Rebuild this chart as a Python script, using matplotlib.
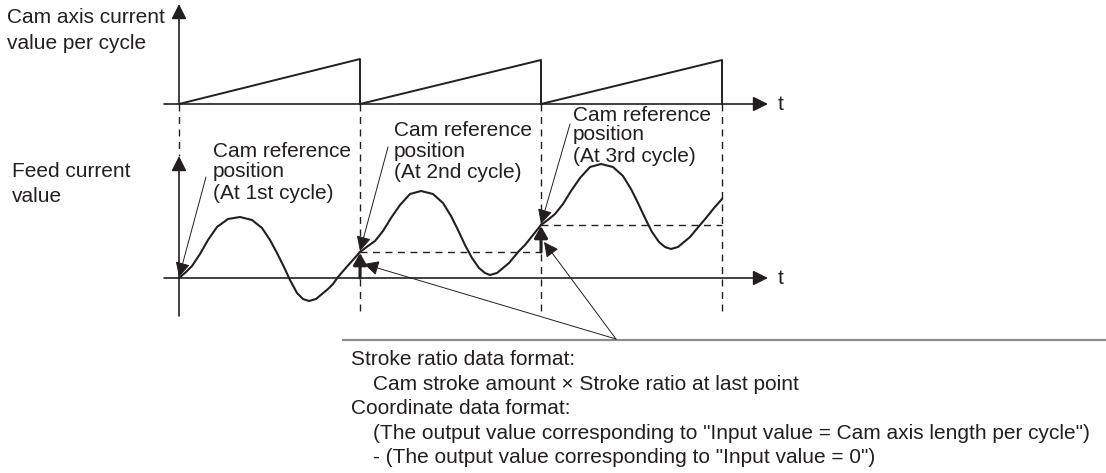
import matplotlib
matplotlib.use("Agg")
import matplotlib.pyplot as plt

plt.rcParams['font.family'] = ['Liberation Sans', 'DejaVu Sans']

INK = '#231f20'

# cycle boundaries along t (pixel space of the diagram)
cycle_x = [179, 360, 541, 722]
saw_top = [59, 60, 60]

# feed current value, one list per cycle
feed_x = [
    [179, 186, 192, 200, 208, 217, 228, 240, 252, 262, 270, 277, 284, 290, 297,
     303, 309, 316, 322, 328, 333, 338, 344, 352, 360],
    [360, 368, 375, 383, 391, 400, 410, 421, 433, 443, 451, 458, 465, 472, 479,
     485, 490, 497, 503, 509, 514, 519, 525, 533, 541],
    [541, 549, 555, 563, 571, 580, 590, 601, 613, 623, 631, 638, 645, 652, 659,
     665, 671, 678, 684, 690, 695, 700, 706, 714, 722],
]
feed_y = [
    [278, 272, 266, 254, 240, 227, 219, 217, 220, 228, 240, 253, 267, 280, 293,
     299, 301, 299, 294, 289, 284, 277, 270, 261, 252],
    [252, 246, 241, 231, 218, 205, 194, 191, 194, 203, 216, 230, 245, 258, 268,
     273, 275, 273, 268, 263, 257, 251, 245, 235, 225],
    [225, 219, 214, 204, 191, 178, 167, 164, 167, 176, 189, 203, 218, 232, 242,
     247, 249, 247, 242, 237, 231, 225, 218, 208, 199],
]

ref_labels = [
    ["Cam reference", "position", "(At 1st cycle)"],
    ["Cam reference", "position", "(At 2nd cycle)"],
    ["Cam reference", "position", "(At 3rd cycle)"],
]

box_lines = [
    "Stroke ratio data format:",
    "Cam stroke amount \u00d7 Stroke ratio at last point",
    "Coordinate data format:",
    "(The output value corresponding to \"Input value = Cam axis length per cycle\")",
    "- (The output value corresponding to \"Input value = 0\")",
]
box_indent = [False, True, False, True, True]


def arrow(ax, x0, y0, x1, y1, lw=1.2, hl=0.9, hw=0.45):
    ax.annotate('', xy=(x1, y1), xytext=(x0, y0),
                arrowprops=dict(arrowstyle='-|>,head_length=%s,head_width=%s' % (hl, hw),
                                color=INK, lw=lw, shrinkA=0, shrinkB=0))


def main():
    fig = plt.figure(figsize=(11.06, 4.73), dpi=100)
    ax = fig.add_axes([0, 0, 1, 1])
    ax.set_xlim(0, 1106)
    ax.set_ylim(473, 0)
    ax.axis('off')

    top_base = 104
    bot_base = 278
    fs = 15
    dash = (0, (5, 4))

    # axes with arrow heads
    arrow(ax, 164, top_base, 768, top_base)
    arrow(ax, 164, bot_base, 768, bot_base)
    arrow(ax, cycle_x[0], top_base, cycle_x[0], 4)
    arrow(ax, cycle_x[0], 316, cycle_x[0], 156)
    ax.text(778, top_base, 't', fontsize=fs, color=INK, va='center', ha='left')
    ax.text(778, bot_base, 't', fontsize=fs, color=INK, va='center', ha='left')

    # saw tooth of the cam axis current value per cycle
    for i in range(3):
        ax.plot([cycle_x[i], cycle_x[i + 1], cycle_x[i + 1]],
                [top_base, saw_top[i], top_base], color=INK, lw=1.4)

    # dashed cycle boundaries
    ax.plot([cycle_x[0], cycle_x[0]], [top_base, 156], color=INK, lw=1.0, ls=dash)
    for x in cycle_x[1:]:
        ax.plot([x, x], [top_base, 316], color=INK, lw=1.0, ls=dash)

    # feed current value
    for xs, ys in zip(feed_x, feed_y):
        ax.plot(xs, ys, color=INK, lw=1.5, solid_joinstyle='round')

    # dashed levels of the previous cycle end
    ax.plot([cycle_x[1], cycle_x[2]], [feed_y[0][-1]] * 2, color=INK, lw=1.0, ls=dash)
    ax.plot([cycle_x[2], cycle_x[3]], [feed_y[1][-1]] * 2, color=INK, lw=1.0, ls=dash)

    # bold offset arrows
    arrow(ax, cycle_x[1], bot_base, cycle_x[1], feed_y[0][-1] + 1, lw=2.2, hl=0.7, hw=0.4)
    arrow(ax, cycle_x[2], feed_y[0][-1], cycle_x[2], feed_y[1][-1] + 1, lw=2.2, hl=0.7, hw=0.4)

    # cam reference position labels
    label_pos = [(213, [157, 177, 199]), (394, [136, 157, 178]), (573, [121, 140, 162])]
    for lines, (lx, ys) in zip(ref_labels, label_pos):
        for line, y in zip(lines, ys):
            ax.text(lx, y, line, fontsize=fs, color=INK, va='baseline', ha='left')
    arrow(ax, 206, 177, cycle_x[0], feed_y[0][0] - 1, lw=0.7)
    arrow(ax, 388, 147, cycle_x[1], feed_y[0][-1] - 1, lw=0.7)
    arrow(ax, 570, 124, cycle_x[2], feed_y[1][-1] - 1, lw=0.7)

    # note box
    ax.plot([343, 1106], [340, 340], color='#8c8c8c', lw=1.6)
    arrow(ax, 616, 339, 364, 264, lw=0.7)
    arrow(ax, 616, 339, 544, 242, lw=0.7)
    for i, (line, ind) in enumerate(zip(box_lines, box_indent)):
        ax.text(373 if ind else 351, 365 + 24.5 * i, line, fontsize=fs,
                color=INK, va='baseline', ha='left')

    # left titles
    ax.text(7, 23, "Cam axis current", fontsize=fs, color=INK, va='baseline')
    ax.text(7, 49, "value per cycle", fontsize=fs, color=INK, va='baseline')
    ax.text(12, 177, "Feed current", fontsize=fs, color=INK, va='baseline')
    ax.text(12, 202, "value", fontsize=fs, color=INK, va='baseline')

    fig.savefig('out.png', dpi=100)


if __name__ == "__main__":
    main()
